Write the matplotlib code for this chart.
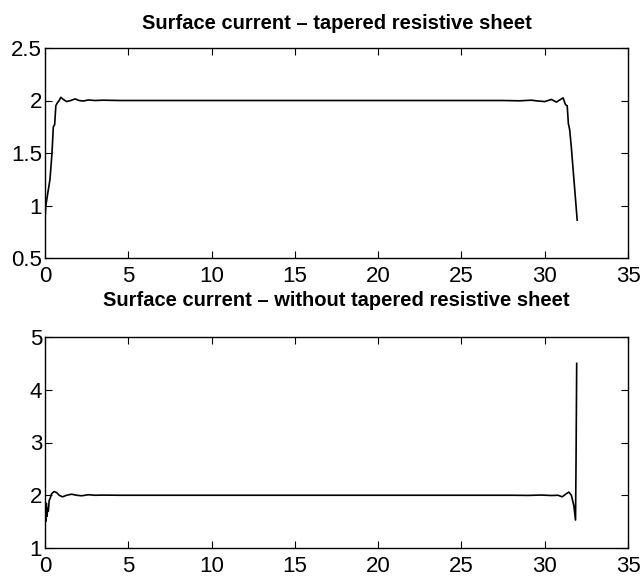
import matplotlib
matplotlib.use("Agg")
import matplotlib.pyplot as plt

plt.rcParams["font.family"] = ["Liberation Sans", "DejaVu Sans"]

# tapered resistive sheet
x_top = [0.0, 0.05, 0.15, 0.3, 0.42, 0.5, 0.58, 0.65, 0.75, 0.85, 0.95, 1.1, 1.3, 1.55, 1.8,
         2.05, 2.3, 2.6, 3.0, 3.5, 4.5, 6.0, 10.0, 15.0, 20.0, 25.0, 27.5, 28.5, 29.2, 29.6,
         30.0, 30.4, 30.7, 30.95, 31.1, 31.25, 31.35, 31.42, 31.5, 31.6, 31.95]
y_top = [0.87, 1.0, 1.1, 1.25, 1.5, 1.75, 1.77, 1.95, 1.98, 2.0, 2.03, 2.01, 1.99, 2.0, 2.015,
         2.0, 1.995, 2.005, 2.0, 2.003, 2.0, 2.0, 2.0, 2.0, 2.0, 2.0, 2.0, 1.997, 2.003, 1.995,
         1.99, 2.01, 1.985, 2.01, 2.025, 1.96, 1.95, 1.78, 1.72, 1.55, 0.86]

# without tapered resistive sheet
x_bot = [0.0, 0.04, 0.08, 0.12, 0.16, 0.2, 0.25, 0.32, 0.4, 0.54, 0.7, 0.85, 1.05, 1.3, 1.6,
         1.9, 2.2, 2.6, 3.0, 3.5, 4.5, 6.0, 10.0, 15.0, 20.0, 25.0, 28.0, 29.0, 29.8, 30.4,
         30.8, 31.05, 31.3, 31.45, 31.6, 31.75, 31.85, 31.88, 31.92]
y_bot = [1.75, 1.5, 1.85, 1.6, 1.75, 1.7, 1.9, 1.95, 2.03, 2.07, 2.05, 2.0, 1.97, 2.0, 2.02,
         2.0, 1.99, 2.01, 2.0, 2.003, 2.0, 2.0, 2.0, 2.0, 2.0, 2.0, 2.0, 1.997, 2.004, 1.995,
         2.0, 1.97, 2.03, 2.06, 2.0, 1.8, 1.53, 2.6, 4.5]

fig = plt.figure(figsize=(6.43, 5.8), dpi=100)
ax1 = fig.add_axes([45 / 643, 1 - 258 / 580, 583 / 643, 210 / 580])
ax2 = fig.add_axes([45 / 643, 1 - 548 / 580, 583 / 643, 211 / 580])

panels = [
    (ax1, x_top, y_top, (0.5, 2.5), [0.5, 1, 1.5, 2, 2.5], ["0.5", "1", "1.5", "2", "2.5"],
     "Surface current – tapered resistive sheet", 14),
    (ax2, x_bot, y_bot, (1, 5), [1, 2, 3, 4, 5], ["1", "2", "3", "4", "5"],
     "Surface current – without tapered resistive sheet", 22),
]
for ax, x, y, ylim, yt, ytl, title, tpad in panels:
    ax.plot(x, y, color="black", lw=1.2)
    ax.set_xlim(0, 35)
    ax.set_ylim(*ylim)
    ax.set_xticks([0, 5, 10, 15, 20, 25, 30, 35])
    ax.set_yticks(yt)
    ax.set_yticklabels(ytl)
    ax.tick_params(direction="in", top=True, right=True, length=5, width=0.8,
                   labelsize=16)
    ax.tick_params(axis="x", pad=6)
    ax.tick_params(axis="y", pad=2)
    for s in ax.spines.values():
        s.set_linewidth(1.0)
    ax.set_title(title, fontsize=14.5, fontweight="bold", pad=tpad)

fig.savefig("out.png", dpi=100)
